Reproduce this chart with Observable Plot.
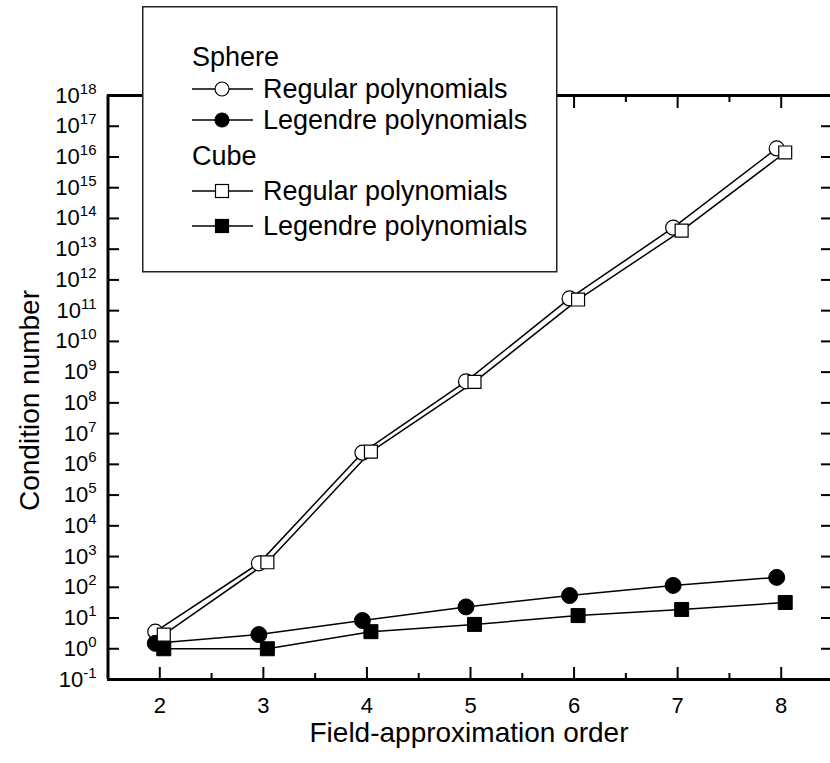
<!DOCTYPE html>
<html>
<head>
<meta charset="utf-8">
<script src="https://cdn.jsdelivr.net/npm/d3@7"></script>
<script src="https://cdn.jsdelivr.net/npm/@observablehq/plot@0.6"></script>
<style>
  body { margin: 0; background: #fff; }
  #wrap { position: relative; width: 830px; height: 763px; overflow: hidden; font-family: "Liberation Sans", Arial, sans-serif; }
</style>
</head>
<body>
<div id="wrap"></div>
<script>
// ---- data ----
const orders = [2, 3, 4, 5, 6, 7, 8];
const sphereRegular  = [3.6, 600, 2.4e6, 5e8, 2.5e11, 5e13, 1.9e16];
const sphereLegendre = [1.5, 2.9, 8.3, 23, 54, 115, 210];
const cubeRegular    = [2.9, 650, 2.6e6, 4.8e8, 2.3e11, 4e13, 1.4e16];
const cubeLegendre   = [1.0, 1.0, 3.6, 6.2, 12, 19, 32];

const yTickExponents = [-1,0,1,2,3,4,5,6,7,8,9,10,11,12,13,14,15,16,17,18];
const xMajorTicks = [2, 3, 4, 5, 6, 7, 8];
const xMinorTicks = [2.5, 3.5, 4.5, 5.5, 6.5, 7.5];
const xTitle = "Field-approximation order";
const yTitle = "Condition number";
const legendGroups = ["Sphere", "Cube"];
const legendItems = ["Regular polynomials", "Legendre polynomials"];

// ---- build ----
const mk = arr => orders.map((o, i) => ({order: o, value: arr[i]}));
const sR = mk(sphereRegular), sL = mk(sphereLegendre), cR = mk(cubeRegular), cL = mk(cubeLegendre);
const yTicks = yTickExponents.map(e => Math.pow(10, e));
const FONT = '"Liberation Sans", Arial, Helvetica, sans-serif';
const lineOpts = {x: "order", y: "value", stroke: "black", strokeWidth: 1.5};
const SPH_DX = -4.5, CUBE_DX = 4;

const chart = Plot.plot({
  width: 830, height: 763,
  marginTop: 95, marginBottom: 84, marginLeft: 107, marginRight: 0,
  style: {fontFamily: FONT, fontSize: "22px", color: "black", background: "white"},
  x: {domain: [1.5, 8.5], range: [107.5, 832.5], label: null},
  y: {type: "log", domain: [0.1, 1e18], range: [679, 95], label: null},
  marks: [
    Plot.line(sR, {...lineOpts, dx: SPH_DX}),
    Plot.line(sL, {...lineOpts, dx: SPH_DX}),
    Plot.line(cR, {...lineOpts, dx: CUBE_DX}),
    Plot.line(cL, {...lineOpts, dx: CUBE_DX}),
    Plot.dot(sR, {x: "order", y: "value", symbol: "circle", r: 7.5, fill: "white", stroke: "black", strokeWidth: 1.2, dx: SPH_DX}),
    Plot.dot(sL, {x: "order", y: "value", symbol: "circle", r: 8, fill: "black", stroke: "black", strokeWidth: 1, dx: SPH_DX}),
    Plot.dot(cR, {x: "order", y: "value", symbol: "square", r: 7.3, fill: "white", stroke: "black", strokeWidth: 1.2, dx: CUBE_DX}),
    Plot.dot(cL, {x: "order", y: "value", symbol: "square", r: 7.9, fill: "black", stroke: "black", strokeWidth: 1, dx: CUBE_DX}),
    // inward ticks
    Plot.axisY(yTicks, {anchor: "left", tickSize: -12, tickFormat: () => "", strokeWidth: 2}),
    Plot.axisY(yTicks, {anchor: "right", tickSize: -10, tickFormat: () => "", strokeWidth: 2}),
    Plot.axisX(xMajorTicks, {anchor: "bottom", tickSize: -12, tickFormat: () => "", strokeWidth: 2}),
    Plot.axisX(xMinorTicks, {anchor: "bottom", tickSize: -6, tickFormat: () => "", strokeWidth: 2}),
    Plot.axisX(xMajorTicks, {anchor: "top", tickSize: -12, tickFormat: () => "", strokeWidth: 2}),
    Plot.axisX(xMinorTicks, {anchor: "top", tickSize: -6, tickFormat: () => "", strokeWidth: 2}),
    // labels
    Plot.axisY(yTicks, {anchor: "left", tickSize: 0, tickPadding: 11, fontSize: 22,
      tickFormat: d => "10^" + Math.round(Math.log10(d))}),
    Plot.axisX(xMajorTicks, {anchor: "bottom", tickSize: 0, tickPadding: 18, fontSize: 22, tickFormat: d => "#" + d}),
    // frame lines
    Plot.ruleX([1.5, 8.5], {strokeWidth: 3}),
    Plot.ruleY([0.1, 1e18], {strokeWidth: 3}),
    // titles
    Plot.text([xTitle], {text: d => d, frameAnchor: "bottom", lineAnchor: "middle", dy: 54, fontSize: 28}),
    Plot.text([yTitle], {text: d => d, frameAnchor: "left", textAnchor: "middle", lineAnchor: "middle", rotate: -90, dx: -77, dy: 13, fontSize: 28})
  ]
});

// tick labels: font size + superscript exponents
const NS = "http://www.w3.org/2000/svg";
chart.querySelectorAll("text").forEach(t => {
  const s = t.textContent;
  const m = /^10\^(-?\d+)$/.exec(s);
  if (m) {
    t.textContent = "";
    t.style.fontSize = "22px";
    const a = document.createElementNS(NS, "tspan");
    a.textContent = "10";
    const b = document.createElementNS(NS, "tspan");
    b.textContent = m[1];
    b.setAttribute("dy", "-9");
    b.style.fontSize = "15px";
    t.append(a, b);
  } else if (/^#\d+$/.test(s)) {
    t.textContent = s.slice(1);
    t.style.fontSize = "22px";
  }
});

const wrap = document.getElementById("wrap");
chart.style.position = "absolute";
chart.style.left = "0px";
chart.style.top = "0px";
wrap.appendChild(chart);

// ---- legend (overlay box) ----
const lg = d3.create("svg")
  .attr("width", 416).attr("height", 267)
  .style("position", "absolute").style("left", "142px").style("top", "6px")
  .style("font-family", FONT);
lg.append("rect").attr("x", 0.75).attr("y", 0.75).attr("width", 414).attr("height", 265)
  .attr("fill", "white").attr("stroke", "#222").attr("stroke-width", 1.5);
const rowsY = [[51, 83, 114], [150, 185, 220]];
const symbols = [["circle", "circle"], ["square", "square"]];
const fills = ["white", "black"];
legendGroups.forEach((g, gi) => {
  lg.append("text").attr("x", 50).attr("y", rowsY[gi][0]).attr("dominant-baseline", "central")
    .attr("font-size", 27).text(g);
  legendItems.forEach((lab, li) => {
    const y = rowsY[gi][li + 1];
    lg.append("line").attr("x1", 50).attr("x2", 111).attr("y1", y).attr("y2", y)
      .attr("stroke", "black").attr("stroke-width", 1.5);
    if (symbols[gi][li] === "circle") {
      lg.append("circle").attr("cx", 80).attr("cy", y).attr("r", 7)
        .attr("fill", fills[li]).attr("stroke", "black").attr("stroke-width", 1.2);
    } else {
      lg.append("rect").attr("x", 80 - 6.5).attr("y", y - 6.5).attr("width", 13).attr("height", 13)
        .attr("fill", fills[li]).attr("stroke", "black").attr("stroke-width", 1.2);
    }
    lg.append("text").attr("x", 121).attr("y", y).attr("dominant-baseline", "central")
      .attr("font-size", 27).text(lab);
  });
});
wrap.appendChild(lg.node());
</script>
</body>
</html>
